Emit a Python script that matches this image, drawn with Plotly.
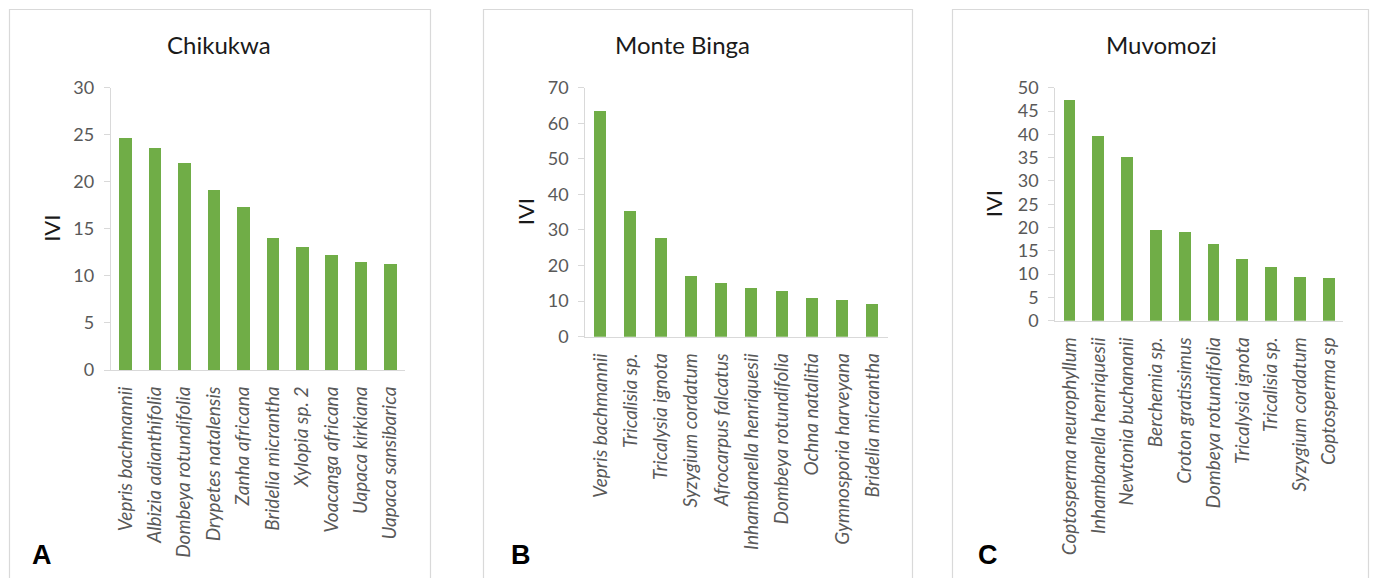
import plotly.graph_objects as go

W, H = 1377, 578

# Importance Value Index (IVI) of the ten dominant species at each site
chikukwa_species = [
    "Vepris bachmannii", "Albizia adianthifolia", "Dombeya rotundifolia",
    "Drypetes natalensis", "Zanha africana", "Bridelia micrantha",
    "Xylopia sp. 2", "Voacanga africana", "Uapaca kirkiana", "Uapaca sansibarica",
]
chikukwa_ivi = [24.7, 23.6, 22.0, 19.2, 17.4, 14.1, 13.1, 12.3, 11.5, 11.3]

binga_species = [
    "Vepris bachmannii", "Tricalisia sp.", "Tricalysia ignota",
    "Syzygium cordatum", "Afrocarpus falcatus", "Inhambanella henriquesii",
    "Dombeya rotundifolia", "Ochna natalitia", "Gymnosporia harveyana",
    "Bridelia micrantha",
]
binga_ivi = [63.4, 35.3, 27.9, 17.2, 15.3, 13.7, 13.0, 11.1, 10.4, 9.4]

muvomozi_species = [
    "Coptosperma neurophyllum", "Inhambanella henriquesii", "Newtonia buchananii",
    "Berchemia sp.", "Croton gratissimus", "Dombeya rotundifolia",
    "Tricalysia ignota", "Tricalisia sp.", "Syzygium cordatum", "Coptosperma sp",
]
muvomozi_ivi = [47.4, 39.8, 35.1, 19.6, 19.1, 16.6, 13.4, 11.5, 9.5, 9.3]

site_titles = ["Chikukwa", "Monte Binga", "Muvomozi"]
panel_letters = ["A", "B", "C"]
y_max = [30, 70, 50]
y_step = [5, 10, 5]

GREEN = "#70ad47"
GRID = "#d9d9d9"
TICK_TXT = "#595959"
FONT = "Lato"

# pixel geometry of each panel: frame, plot area, label positions
panels = [
    dict(frame=(9.5, 430.5), px=(110.7, 405.0), py=(370.0, 87.7), bw=0.43,
         title_x=219, axis_title_x=52, letter_x=42),
    dict(frame=(483.5, 912.5), px=(585.3, 887.7), py=(336.7, 87.7), bw=0.40,
         title_x=682, axis_title_x=525, letter_x=521),
    dict(frame=(952.5, 1368.5), px=(1055.3, 1343.3), py=(320.7, 87.7), bw=0.41,
         title_x=1161, axis_title_x=993, letter_x=988),
]

species = [chikukwa_species, binga_species, muvomozi_species]
values = [chikukwa_ivi, binga_ivi, muvomozi_ivi]

fig = go.Figure()
layout = dict(
    width=W, height=H,
    margin=dict(l=0, r=0, t=0, b=0, autoexpand=False),
    paper_bgcolor="white", plot_bgcolor="white",
    showlegend=False, bargap=0,
    font=dict(family=FONT, color=TICK_TXT),
)
shapes, annotations = [], []

for i, p in enumerate(panels):
    n = "" if i == 0 else str(i + 1)
    fig.add_trace(go.Bar(
        x=species[i], y=values[i], width=p["bw"],
        marker=dict(color=GREEN, line=dict(width=0)),
        xaxis="x" + n, yaxis="y" + n, hoverinfo="x+y",
    ))
    layout["xaxis" + n] = dict(
        domain=[p["px"][0] / W, p["px"][1] / W],
        anchor="y" + n, type="category", range=[-0.5, 9.5],
        automargin=False,
        showline=True, linecolor=GRID, linewidth=1,
        showgrid=False, zeroline=False, ticks="",
        tickangle=-90, ticklabelstandoff=8,
        tickfont=dict(family=FONT, size=19, color=TICK_TXT, style="italic"),
    )
    layout["yaxis" + n] = dict(
        domain=[1 - p["py"][0] / H, 1 - p["py"][1] / H],
        anchor="x" + n, range=[0, y_max[i]], dtick=y_step[i], tick0=0,
        automargin=False,
        showline=True, linecolor=GRID, linewidth=1,
        showgrid=False, zeroline=False,
        ticks="outside", ticklen=6, tickcolor=GRID,
        ticklabelstandoff=6,
        tickfont=dict(family=FONT, size=18, color=TICK_TXT),
    )
    # panel frame (open at the bottom)
    f0, f1 = p["frame"]
    shapes.append(dict(
        type="path", xref="paper", yref="paper",
        path=f"M {f0 / W},-0.02 L {f0 / W},{1 - 9.5 / H} L {f1 / W},{1 - 9.5 / H} L {f1 / W},-0.02",
        line=dict(color=GRID, width=1.2),
    ))
    annotations.append(dict(
        text=site_titles[i], xref="paper", yref="paper",
        x=p["title_x"] / W, y=1 - 45 / H, xanchor="center", yanchor="middle",
        showarrow=False, font=dict(family=FONT, size=24, color="#1a1a1a"),
    ))
    annotations.append(dict(
        text="IVI", xref="paper", yref="paper", textangle=-90,
        x=p["axis_title_x"] / W, y=1 - ((p["py"][0] + p["py"][1]) / 2) / H,
        xanchor="center", yanchor="middle",
        showarrow=False, font=dict(family=FONT, size=22, color="#1a1a1a"),
    ))
    annotations.append(dict(
        text="<b>" + panel_letters[i] + "</b>", xref="paper", yref="paper",
        x=p["letter_x"] / W, y=1 - 555 / H, xanchor="center", yanchor="middle",
        showarrow=False, font=dict(family="Liberation Sans", size=27, color="black"),
    ))

layout["shapes"] = shapes
layout["annotations"] = annotations
fig.update_layout(**layout)
fig.write_html("out.html")
